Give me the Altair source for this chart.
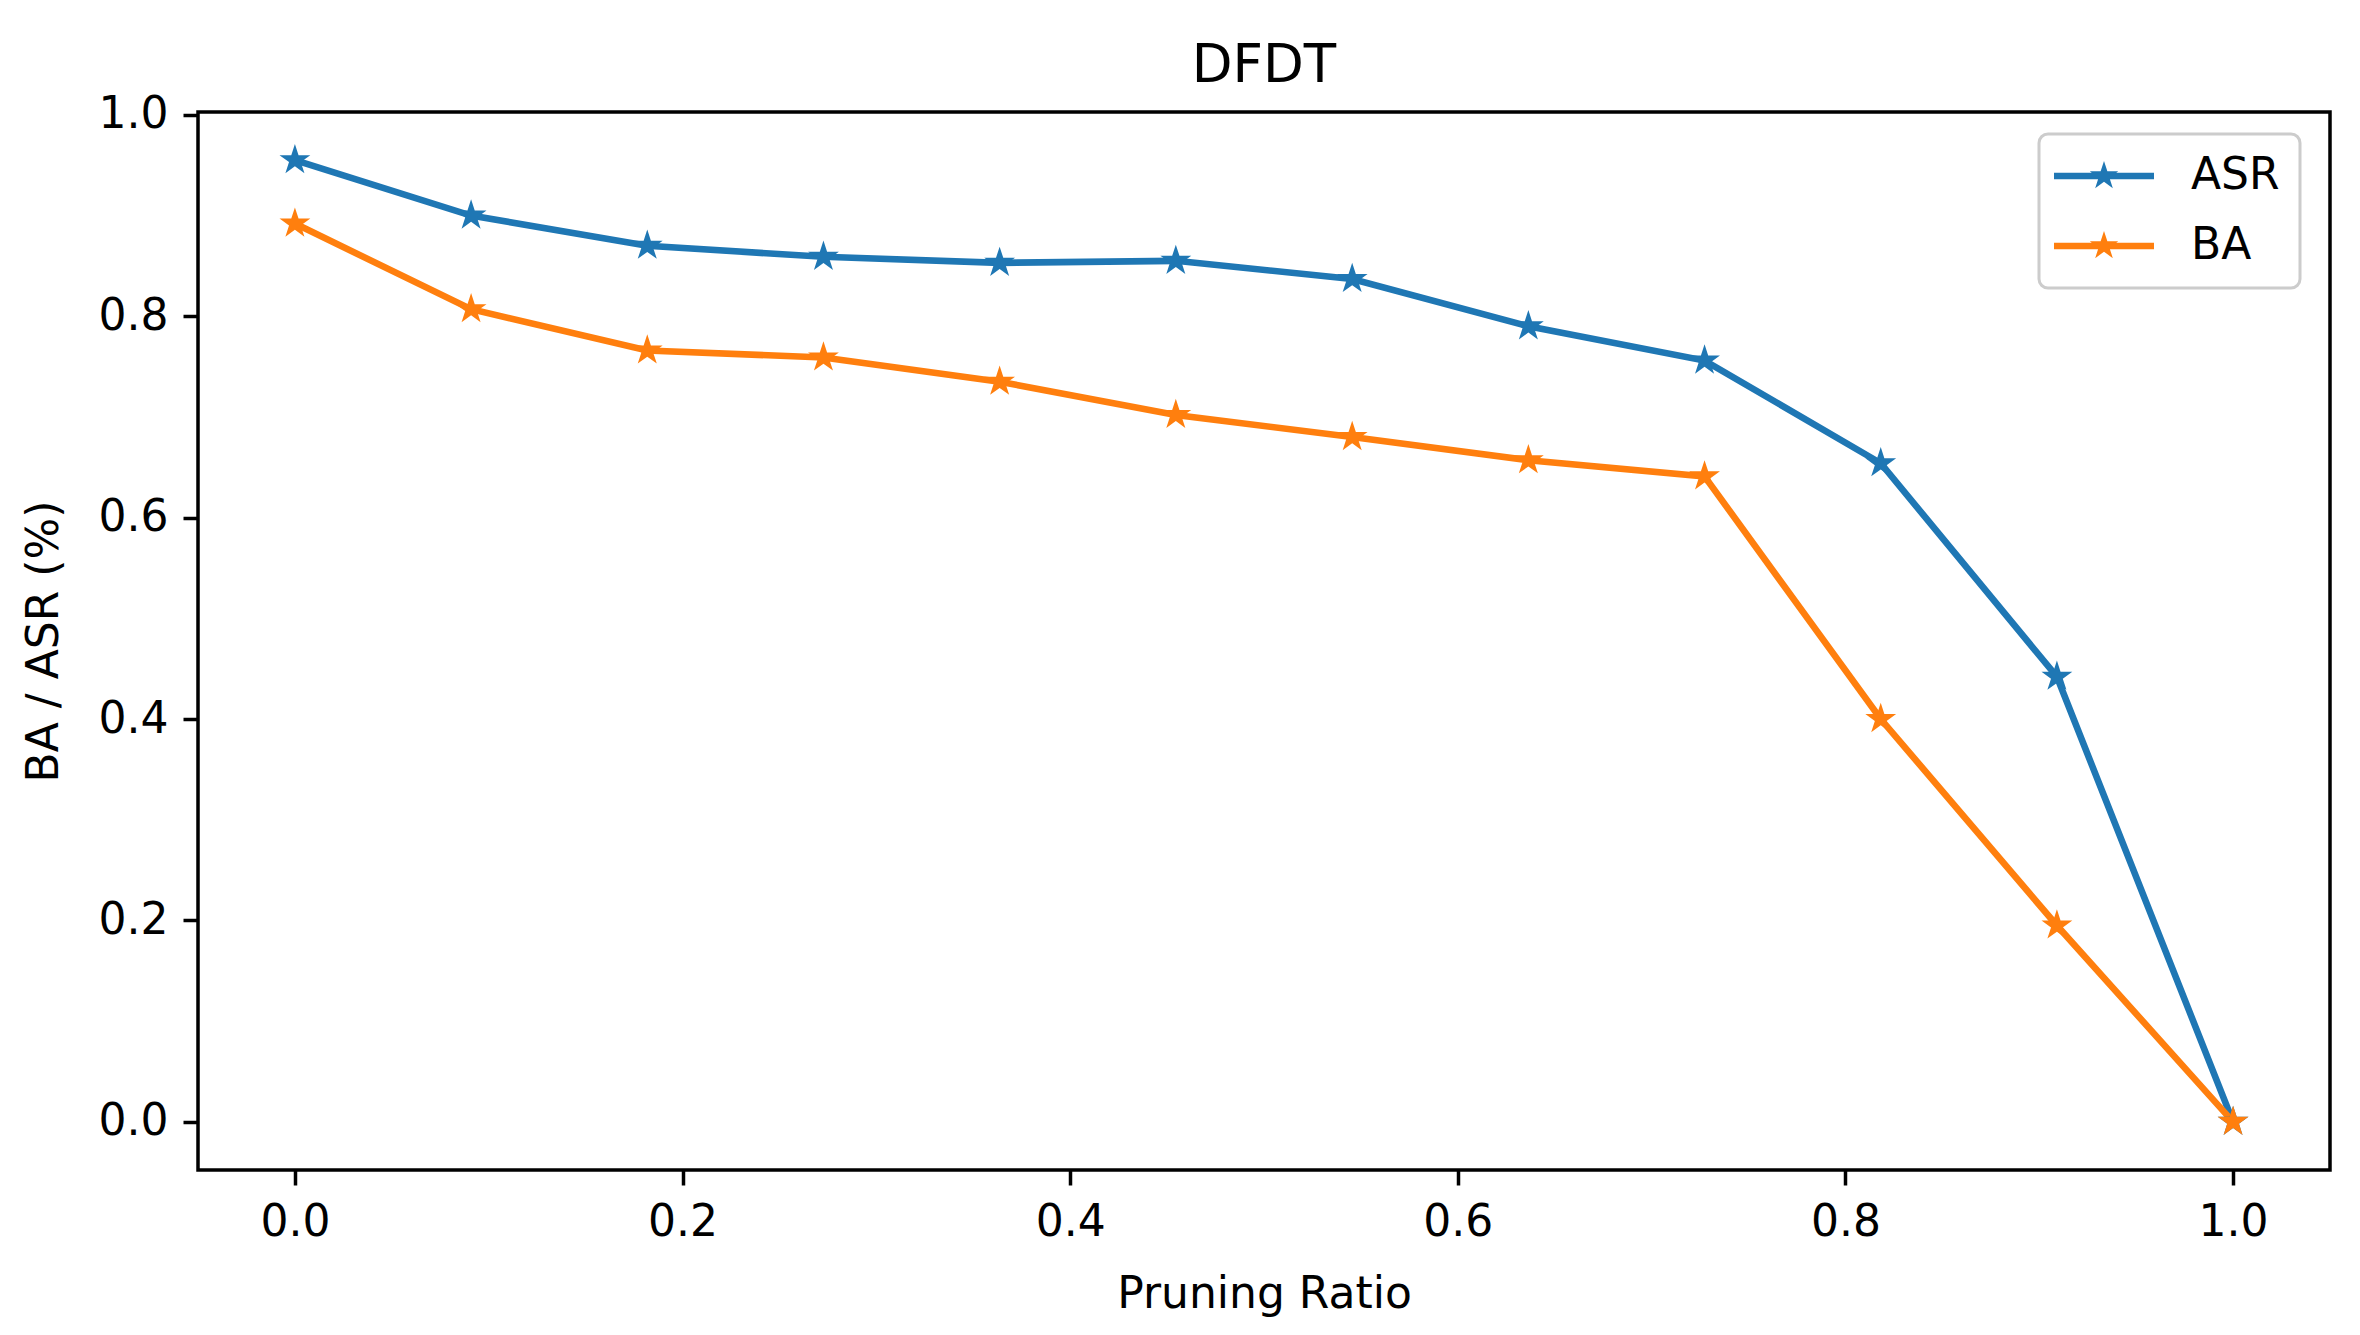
import math
import altair as alt
import pandas as pd

# ---- data ----
ratio = [0.0, 0.0909, 0.1818, 0.2727, 0.3636, 0.4545, 0.5455, 0.6364, 0.7273, 0.8182, 0.9091, 1.0]
asr = [0.955, 0.900, 0.870, 0.859, 0.853, 0.855, 0.837, 0.790, 0.756, 0.654, 0.442, 0.0]
ba = [0.892, 0.807, 0.766, 0.759, 0.735, 0.702, 0.680, 0.657, 0.641, 0.400, 0.195, 0.0]
series = ["ASR", "BA"]
colors = ["#1f77b4", "#ff7f0e"]
x_ticks = [0.0, 0.2, 0.4, 0.6, 0.8, 1.0]
y_ticks = [0.0, 0.2, 0.4, 0.6, 0.8, 1.0]

rows = []
for name, vals in zip(series, [asr, ba]):
    for r, v in zip(ratio, vals):
        rows.append({"ratio": r, "value": v, "series": name})
df = pd.DataFrame(rows)


# ---- star shape (matplotlib-like regular 5-point star) ----
def star_path(scale=1.0, inner=0.382):
    pts = []
    for k in range(10):
        ang = math.radians(-90 + k * 36)
        rad = scale if k % 2 == 0 else scale * inner
        pts.append((rad * math.cos(ang), rad * math.sin(ang)))
    s = "M" + " L".join(f"{x:.4f},{y:.4f}" for x, y in pts) + " Z"
    return s


STAR = star_path(1.0)
# legend symbol: unit = 20px (size 1600); line 100px long, star radius 15px
t = 0.165
L = 2.5
LEGEND_SYMBOL = f"M{-L},{-t} L{L},{-t} L{L},{t} L{-L},{t} Z " + star_path(0.75)

FONT = "DejaVu Sans"

line = alt.Chart().mark_line(strokeWidth=6.6)
pts = alt.Chart().mark_point(shape=STAR, filled=True, size=1050, opacity=1)

chart = alt.layer(line, pts, data=df).encode(
    x=alt.X(
        "ratio:Q",
        scale=alt.Scale(domain=[-0.05, 1.05], nice=False, zero=False),
        axis=alt.Axis(
            values=x_ticks, format=".1f", title="Pruning Ratio",
            titleY=137, titleBaseline="alphabetic", labelFlush=False,
        ),
    ),
    y=alt.Y(
        "value:Q",
        scale=alt.Scale(domain=[-0.0478, 1.0028], nice=False, zero=False),
        axis=alt.Axis(
            values=y_ticks, format=".1f", title="BA / ASR (%)",
            titleX=-141, titleBaseline="alphabetic", labelFlush=False,
        ),
    ),
    color=alt.Color(
        "series:N",
        sort=series,
        scale=alt.Scale(domain=series, range=colors),
        legend=alt.Legend(
            title=None,
            orient="none",
            legendX=1841,
            legendY=22,
            symbolType=LEGEND_SYMBOL,
            symbolSize=1600,
            symbolOffset=23,
            symbolStrokeWidth=0,
            symbolOpacity=1,
            labelFont=FONT,
            labelFontSize=44,
            labelColor="black",
            labelOffset=65,
        ),
    ),
).properties(
    width=2132,
    height=1058,
    title=alt.TitleParams(
        "DFDT", fontSize=53, font=FONT, fontWeight="normal",
        color="black", offset=-42, baseline="alphabetic",
    ),
    autosize=alt.AutoSizeParams(type="none"),
    padding={"left": 190, "top": 104, "right": 2, "bottom": 158},
).configure(
    background="white"
).configure_view(
    stroke="black", strokeWidth=3.5
).configure_legend(
    padding=20,
    rowPadding=26,
    fillColor="white",
    strokeColor="#cccccc",
    strokeWidth=3,
    cornerRadius=9,
).configure_axis(
    grid=False,
    domain=False,
    ticks=True,
    tickSize=15,
    tickWidth=3.5,
    tickColor="black",
    labelFont=FONT,
    labelFontSize=44,
    labelColor="black",
    labelPadding=15,
    labelOverlap=False,
    titleFont=FONT,
    titleFontSize=44,
    titleFontWeight="normal",
    titleColor="black",
)

chart.save("out.html", embed_options={"renderer": "svg", "actions": False})
